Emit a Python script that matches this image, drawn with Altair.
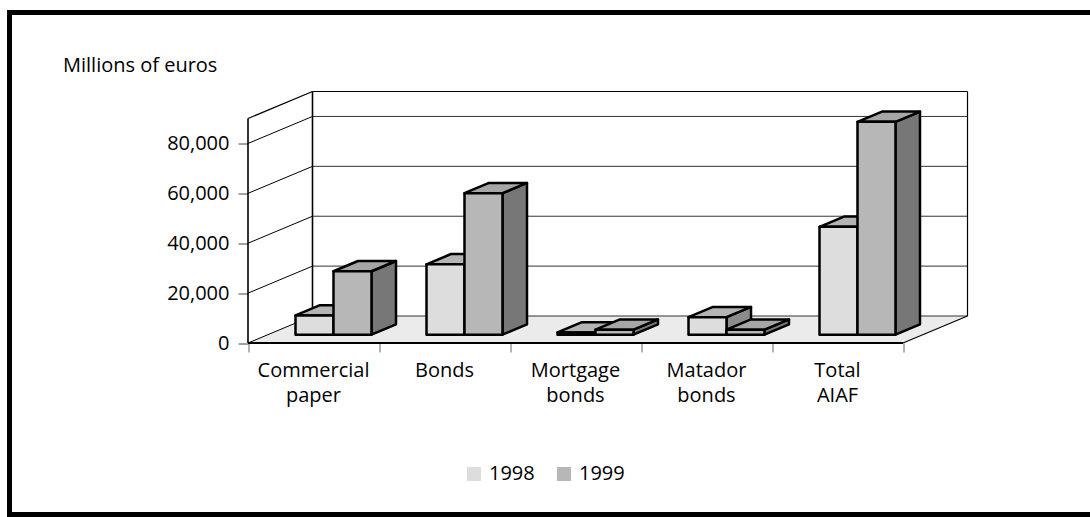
import altair as alt
import pandas as pd

# ---------------- data ----------------
categories = ["Commercial\npaper", "Bonds", "Mortgage\nbonds", "Matador\nbonds", "Total\nAIAF"]
series = ["1998", "1999"]
values_1998 = [7700, 28200, 900, 7000, 43200]
values_1999 = [25400, 56700, 2000, 2000, 85300]
y_ticks = [0, 20000, 40000, 60000, 80000]
y_top = 90000
unit_title = "Millions of euros"

# ---------------- layout / style ----------------
W, H = 1080, 502
X_RANGE = [238.5, 893.5]          # pixel span of the front floor edge
Y_RANGE = [330.5, 106.0]          # pixel position of 0 and of y_top on the front edge
N = len(categories)
DEPTH_C = 64.5 / 131.0            # depth of the box in category units
DEPTH_V = 27.0 * y_top / (Y_RANGE[0] - Y_RANGE[1])   # depth of the box in value units
FRONT_F, BAR_F = 0.31, 0.38       # bar front position / bar depth as fraction of box depth
GAP, BAR_W = 0.21, 0.29
FONT = "Open Sans"
FS = 20
C_FRONT = {"1998": "#dddddd", "1999": "#b7b7b7"}
C_TOP = {"1998": "#b4b4b4", "1999": "#a6a6a6"}
C_SIDE = {"1998": "#8c8c8c", "1999": "#777777"}
C_FLOOR = "#ebebeb"

xs = alt.Scale(domain=[0, N], range=X_RANGE, nice=False, zero=False)
ys = alt.Scale(domain=[0, y_top], range=Y_RANGE, nice=False, zero=False)
x_axis = alt.Axis(values=list(range(N + 1)), labels=False, domain=False, grid=False,
                  tickSize=9, tickColor="#666666", tickWidth=1,
                  offset=-(H - Y_RANGE[0]), title=None)
y_axis = alt.Axis(values=y_ticks, labelExpr="format(datum.value, ',')", domain=False, grid=False,
                  tickSize=10, tickColor="#444444", tickWidth=1,
                  labelFontSize=FS, labelFont=FONT, labelColor="black", labelPadding=9,
                  offset=-X_RANGE[0], title=None)


def X(f="x"):
    return alt.X(f"{f}:Q", scale=xs, axis=x_axis)


def Y(f="y"):
    return alt.Y(f"{f}:Q", scale=ys, axis=y_axis)


def rule_layer(rows, color="black", width=1.0):
    df = pd.DataFrame(rows, columns=["x", "x2", "y", "y2"])
    return alt.Chart(df).mark_rule(color=color, strokeWidth=width).encode(
        x=X(), x2="x2:Q", y=Y(), y2="y2:Q")


layers = []

# back wall
back = pd.DataFrame([{"x": DEPTH_C, "x2": N + DEPTH_C, "y": DEPTH_V, "y2": y_top + DEPTH_V}])
layers.append(alt.Chart(back).mark_rect(color="white").encode(x=X(), x2="x2:Q", y=Y(), y2="y2:Q"))

# left wall
lw = pd.DataFrame({"x": [0, DEPTH_C], "y": [0, DEPTH_V], "y2": [y_top, y_top + DEPTH_V], "id": [0, 0]})
layers.append(alt.Chart(lw).mark_area(color="white", orient="vertical").encode(
    x=X(), y=Y(), y2="y2:Q", detail="id:N"))

# floor
fl = pd.DataFrame({"x": [0, DEPTH_C, N, N + DEPTH_C],
                   "y": [0, 0, 0, DEPTH_V],
                   "y2": [0, DEPTH_V, DEPTH_V, DEPTH_V], "id": [0] * 4})
layers.append(alt.Chart(fl).mark_area(color=C_FLOOR, orient="vertical").encode(
    x=X(), y=Y(), y2="y2:Q", detail="id:N"))

# grid lines on back wall and left wall
layers.append(rule_layer([[DEPTH_C, N + DEPTH_C, v + DEPTH_V, v + DEPTH_V] for v in y_ticks],
                         color="#333333", width=1))
layers.append(rule_layer([[0, DEPTH_C, v, v + DEPTH_V] for v in y_ticks], color="black", width=1))
# wall edges
layers.append(rule_layer([[DEPTH_C, N + DEPTH_C, y_top + DEPTH_V, y_top + DEPTH_V],
                          [0, DEPTH_C, y_top, y_top + DEPTH_V],
                          [N + DEPTH_C, N + DEPTH_C, DEPTH_V, y_top + DEPTH_V],
                          [N, N + DEPTH_C, 0, DEPTH_V]], color="black", width=1.2))
layers.append(rule_layer([[DEPTH_C, DEPTH_C, DEPTH_V, y_top + DEPTH_V],
                          [0, 0, 0, y_top]], color="black", width=1.6))
layers.append(rule_layer([[0, N, 0, 0]], color="black", width=2))

# bars
fdx, fdv = FRONT_F * DEPTH_C, FRONT_F * DEPTH_V
bdx, bdv = BAR_F * DEPTH_C, BAR_F * DEPTH_V
color_scale = alt.Scale(domain=series, range=[C_FRONT[s] for s in series])
legend = alt.Legend(orient="none", legendX=454.5, legendY=451.5, direction="horizontal",
                    title=None, symbolType="square", symbolSize=196, symbolStrokeWidth=0,
                    labelFontSize=FS, labelFont=FONT, labelColor="black", labelOffset=5,
                    columnPadding=19, padding=0)

for s_idx, (s, vals) in enumerate(zip(series, [values_1998, values_1999])):
    front, side, top = [], [], []
    for i, v in enumerate(vals):
        x0 = i + GAP + s_idx * BAR_W + fdx
        x1 = x0 + BAR_W
        b = fdv
        t = v + fdv
        front.append({"x": x0, "x2": x1, "y": b, "y2": t, "series": s})
        side += [{"x": x1, "y": b, "y2": t, "id": i},
                 {"x": x1 + bdx, "y": b + bdv, "y2": t + bdv, "id": i}]
        top += [{"x": x0, "y": t, "y2": t, "id": i},
                {"x": x0 + bdx, "y": t, "y2": t + bdv, "id": i},
                {"x": x1, "y": t, "y2": t + bdv, "id": i},
                {"x": x1 + bdx, "y": t + bdv, "y2": t + bdv, "id": i}]
    layers.append(alt.Chart(pd.DataFrame(side)).mark_area(
        fill=C_SIDE[s], stroke="black", strokeWidth=2.5, strokeJoin="round", orient="vertical"
    ).encode(x=X(), y=Y(), y2="y2:Q", detail="id:N"))
    layers.append(alt.Chart(pd.DataFrame(top)).mark_area(
        fill=C_TOP[s], stroke="black", strokeWidth=2.5, strokeJoin="round", orient="vertical"
    ).encode(x=X(), y=Y(), y2="y2:Q", detail="id:N"))
    layers.append(alt.Chart(pd.DataFrame(front)).mark_rect(
        stroke="black", strokeWidth=2.5, strokeJoin="round"
    ).encode(x=X(), x2="x2:Q", y=Y(), y2="y2:Q",
             color=alt.Color("series:N", scale=color_scale, legend=legend)))

# category labels
lab = pd.DataFrame({"x": [i + 0.5 for i in range(N)], "y": [0] * N, "label": categories})
layers.append(alt.Chart(lab).mark_text(
    font=FONT, fontSize=FS, color="black", align="center", baseline="alphabetic",
    lineBreak="\n", lineHeight=25, dy=34
).encode(x=X(), y=Y(), text="label:N"))

# unit title
layers.append(alt.Chart(pd.DataFrame({"t": [unit_title]})).mark_text(
    font=FONT, fontSize=FS, color="black", align="left", baseline="alphabetic"
).encode(x=alt.value(53.5), y=alt.value(59.5), text="t:N"))

# outer frame (left, top, bottom)
one = pd.DataFrame({"k": [0]})
frame = alt.Chart(one).mark_rule(color="black", strokeWidth=5, strokeCap="square")
layers.append(frame.encode(x=alt.value(0), y=alt.value(0), y2=alt.value("height")))
layers.append(frame.encode(x=alt.value(0), x2=alt.value("width"), y=alt.value(0)))
layers.append(frame.encode(x=alt.value(0), x2=alt.value("width"), y=alt.value("height")))

chart = alt.layer(*layers).properties(
    width=W, height=H,
    autosize=alt.AutoSizeParams(type="none"),
    padding={"left": 9.5, "top": 12.5, "right": 0.5, "bottom": 2.5},
).configure_view(stroke="transparent")

chart.save("out.html", embed_options={"renderer": "svg", "actions": False})
